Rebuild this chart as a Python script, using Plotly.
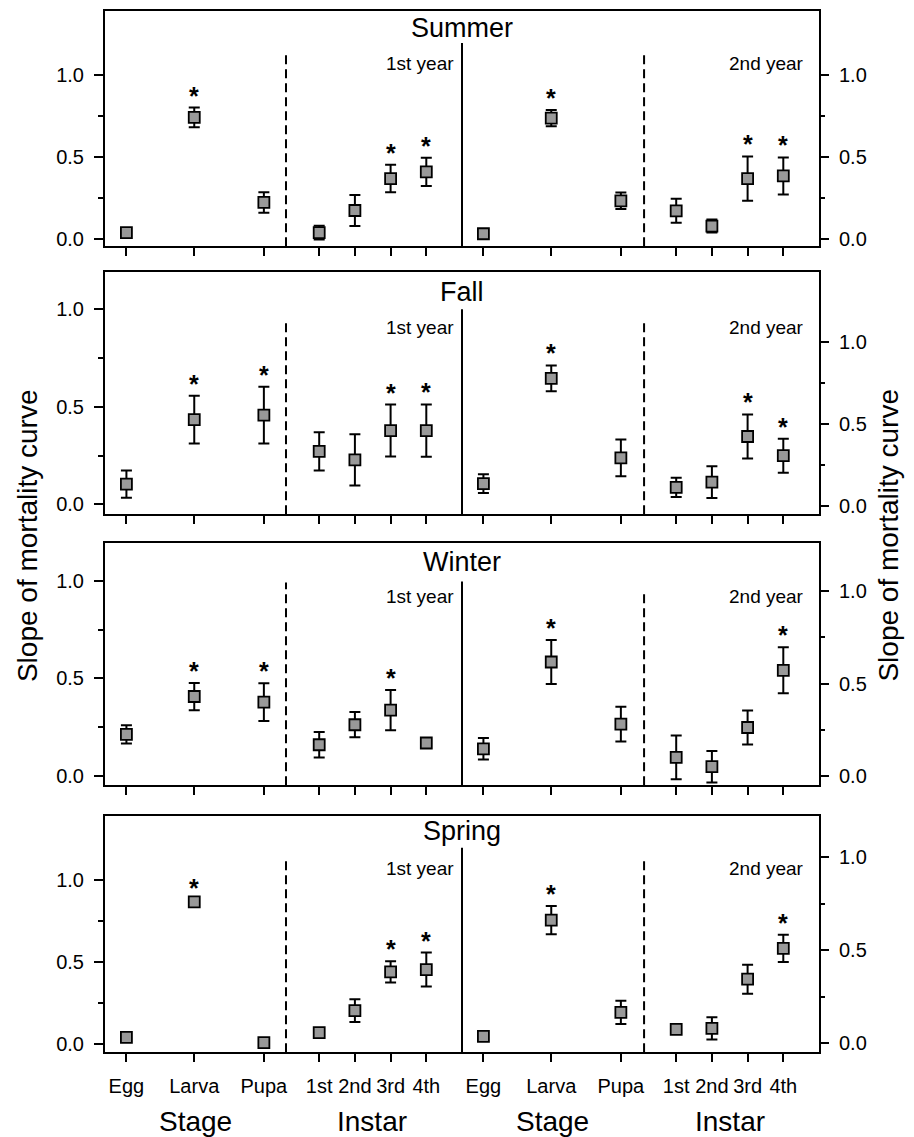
import plotly.graph_objects as go

# ---------------- data ----------------
seasons = ["Summer", "Fall", "Winter", "Spring"]
stage_labels = ["Egg", "Larva", "Pupa"]
instar_labels = ["1st", "2nd", "3rd", "4th"]
categories = stage_labels + instar_labels

summer_y1 = [0.037, 0.74, 0.221, 0.037, 0.172, 0.367, 0.408]
summer_e1 = [0.01, 0.06, 0.063, 0.042, 0.095, 0.084, 0.086]
summer_sig1 = [0, 1, 0, 0, 0, 1, 1]
summer_y2 = [0.030, 0.736, 0.231, 0.170, 0.077, 0.367, 0.383]
summer_e2 = [0.01, 0.05, 0.05, 0.073, 0.04, 0.135, 0.113]
summer_sig2 = [0, 1, 0, 0, 0, 1, 1]

fall_y1 = [0.104, 0.434, 0.457, 0.271, 0.228, 0.378, 0.378]
fall_e1 = [0.07, 0.122, 0.145, 0.098, 0.131, 0.133, 0.134]
fall_sig1 = [0, 1, 1, 0, 0, 1, 1]
fall_y2 = [0.138, 0.781, 0.296, 0.116, 0.148, 0.426, 0.309]
fall_e2 = [0.057, 0.079, 0.112, 0.059, 0.097, 0.135, 0.104]
fall_sig2 = [0, 1, 0, 0, 0, 1, 1]

winter_y1 = [0.212, 0.407, 0.378, 0.159, 0.262, 0.337, 0.168]
winter_e1 = [0.047, 0.07, 0.097, 0.065, 0.065, 0.103, 0.025]
winter_sig1 = [0, 1, 1, 0, 0, 1, 0]
winter_y2 = [0.148, 0.616, 0.281, 0.102, 0.052, 0.263, 0.571]
winter_e2 = [0.058, 0.118, 0.094, 0.118, 0.085, 0.092, 0.124]
winter_sig2 = [0, 1, 0, 0, 0, 0, 1]

spring_y1 = [0.041, 0.868, 0.009, 0.07, 0.204, 0.441, 0.455]
spring_e1 = [0.01, 0.015, 0.005, 0.02, 0.069, 0.065, 0.104]
spring_sig1 = [0, 1, 0, 0, 0, 1, 1]
spring_y2 = [0.037, 0.661, 0.166, 0.075, 0.080, 0.344, 0.51]
spring_e2 = [0.015, 0.076, 0.063, 0.01, 0.06, 0.078, 0.073]
spring_sig2 = [0, 1, 0, 0, 0, 0, 1]

year_labels = ["1st year", "2nd year"]
ytick_vals = [0.0, 0.5, 1.0]
ytick_text = ["0.0", "0.5", "1.0"]

series = {
    "Summer": (summer_y1, summer_e1, summer_sig1, summer_y2, summer_e2, summer_sig2),
    "Fall": (fall_y1, fall_e1, fall_sig1, fall_y2, fall_e2, fall_sig2),
    "Winter": (winter_y1, winter_e1, winter_sig1, winter_y2, winter_e2, winter_sig2),
    "Spring": (spring_y1, spring_e1, spring_sig1, spring_y2, spring_e2, spring_sig2),
}

# ---------------- layout helpers ----------------
W, H = 914, 1137
FONT = "Liberation Sans, Arial, sans-serif"
pos_half = [0.6, 2.5, 4.45, 6.0, 7.0, 8.0, 9.0]
x_left = pos_half
x_right = [p + 10 for p in pos_half]
dash_x = [5.07, 15.1]
LW = 2


def fx(px):
    return px / W


def fy(px):
    return 1 - px / H


panel_px = [(11, 247), (272.7, 515.7), (544.3, 787.3), (817.7, 1055)]
left_ranges = [(-0.047, 1.39), (-0.051, 1.19), (-0.049, 1.197), (-0.05, 1.396)]
right_ranges = [(-0.047, 1.39), (-0.049, 1.43), (-0.048, 1.258), (-0.048, 1.223)]
solid_top = [43, 310, 583, 850]
dash_top_l = [53, 321, 584, 859]
dash_top_r = [53, 321, 591, 859]
year_y = [64, 328, 598, 871]
title_y = [28, 293, 563, 833]

xdom = [fx(105), fx(819)]

fig = go.Figure()
layout = dict(
    width=W, height=H, margin=dict(l=0, r=0, t=0, b=0),
    paper_bgcolor="white", plot_bgcolor="white",
    showlegend=False, font=dict(family=FONT, color="black", size=20),
)
shapes = []
annotations = []

for i, season in enumerate(seasons):
    n = i + 1
    xa = f"x{n}" if n > 1 else "x"
    ya_l = f"y{n}" if n > 1 else "y"
    ya_r = f"y{n + 4}"
    top, bot = panel_px[i]
    ydom = [fy(bot), fy(top)]
    last = (i == len(seasons) - 1)

    layout[f"xaxis{n}" if n > 1 else "xaxis"] = dict(
        domain=xdom, range=[0, 20], anchor=ya_l,
        showline=True, linecolor="black", linewidth=LW, mirror=True,
        ticks="outside", ticklen=8, tickwidth=LW, tickcolor="black",
        tickvals=x_left + x_right, ticktext=categories + categories,
        showticklabels=last, tickfont=dict(size=20), ticklabelstandoff=7,
        showgrid=False, zeroline=False, fixedrange=True,
    )
    minor = dict(ticks="outside", ticklen=5, tickwidth=1.5, tickcolor="black",
                 tickmode="array", tickvals=[0.25, 0.75], showgrid=False)
    layout[f"yaxis{n}" if n > 1 else "yaxis"] = dict(
        domain=ydom, range=list(left_ranges[i]), anchor=xa,
        showline=True, linecolor="black", linewidth=LW, mirror=True,
        ticks="outside", ticklen=9, tickwidth=LW, tickcolor="black",
        tickmode="array", tickvals=ytick_vals, ticktext=ytick_text,
        minor=minor, ticklabelstandoff=6, tickfont=dict(size=20),
        showgrid=False, zeroline=False, fixedrange=True,
    )
    layout[f"yaxis{n + 4}"] = dict(
        domain=ydom, range=list(right_ranges[i]), anchor=xa, overlaying=ya_l,
        side="right", showline=False,
        ticks="outside", ticklen=9, tickwidth=LW, tickcolor="black",
        tickmode="array", tickvals=ytick_vals, ticktext=ytick_text,
        minor=minor, ticklabelstandoff=6, tickfont=dict(size=20),
        showgrid=False, zeroline=False, fixedrange=True,
    )

    y1, e1, s1, y2, e2, s2 = series[season]
    for xs, ys, es, ss, ya in ((x_left, y1, e1, s1, ya_l), (x_right, y2, e2, s2, ya_r)):
        fig.add_trace(go.Scatter(
            x=xs, y=ys, xaxis=xa, yaxis=ya, mode="markers",
            marker=dict(symbol="square", size=11, color="#999999",
                        line=dict(color="black", width=1.8)),
            error_y=dict(type="data", array=es, symmetric=True,
                         color="black", thickness=2, width=5.5),
            hoverinfo="skip",
        ))
        # significance asterisks above upper error bar
        for x, y, e, s in zip(xs, ys, es, ss):
            if s:
                annotations.append(dict(
                    text="<b>*</b>", xref=xa, yref=ya, x=x, y=y + e,
                    showarrow=False, xanchor="center", yanchor="middle",
                    yshift=12, font=dict(size=25, family=FONT, color="black")))

    # vertical separators
    shapes.append(dict(type="line", xref=xa, yref="paper", x0=10, x1=10,
                       y0=fy(bot), y1=fy(solid_top[i]),
                       line=dict(color="black", width=LW)))
    shapes.append(dict(type="line", xref=xa, yref="paper", x0=dash_x[0], x1=dash_x[0],
                       y0=fy(bot), y1=fy(dash_top_l[i]),
                       line=dict(color="black", width=LW, dash="9px,5px")))
    shapes.append(dict(type="line", xref=xa, yref="paper", x0=dash_x[1], x1=dash_x[1],
                       y0=fy(bot), y1=fy(dash_top_r[i]),
                       line=dict(color="black", width=LW, dash="9px,5px")))

    annotations.append(dict(text=season, xref="paper", yref="paper",
                            x=fx(461.7), y=fy(title_y[i]), showarrow=False,
                            xanchor="center", yanchor="middle",
                            font=dict(size=27, family=FONT, color="black")))
    annotations.append(dict(text=year_labels[0], xref="paper", yref="paper",
                            x=fx(456), y=fy(year_y[i]), showarrow=False,
                            xanchor="right", yanchor="middle",
                            font=dict(size=19, family=FONT, color="black")))
    annotations.append(dict(text=year_labels[1], xref="paper", yref="paper",
                            x=fx(806), y=fy(year_y[i]), showarrow=False,
                            xanchor="right", yanchor="middle",
                            font=dict(size=19, family=FONT, color="black")))

# axis titles
annotations.append(dict(text="Slope of mortality curve", xref="paper", yref="paper",
                        x=fx(27.5), y=fy(537), showarrow=False, textangle=-90,
                        xanchor="center", yanchor="middle",
                        font=dict(size=28, family=FONT, color="black")))
annotations.append(dict(text="Slope of mortality curve", xref="paper", yref="paper",
                        x=fx(889), y=fy(537), showarrow=False, textangle=-90,
                        xanchor="center", yanchor="middle",
                        font=dict(size=28, family=FONT, color="black")))
for xc, lab in ((195, "Stage"), (371.7, "Instar"), (552, "Stage"), (730, "Instar")):
    annotations.append(dict(text=lab, xref="paper", yref="paper",
                            x=fx(xc), y=fy(1124), showarrow=False,
                            xanchor="center", yanchor="middle",
                            font=dict(size=28, family=FONT, color="black")))

layout["shapes"] = shapes
layout["annotations"] = annotations
fig.update_layout(**layout)
fig.write_html("out.html")
